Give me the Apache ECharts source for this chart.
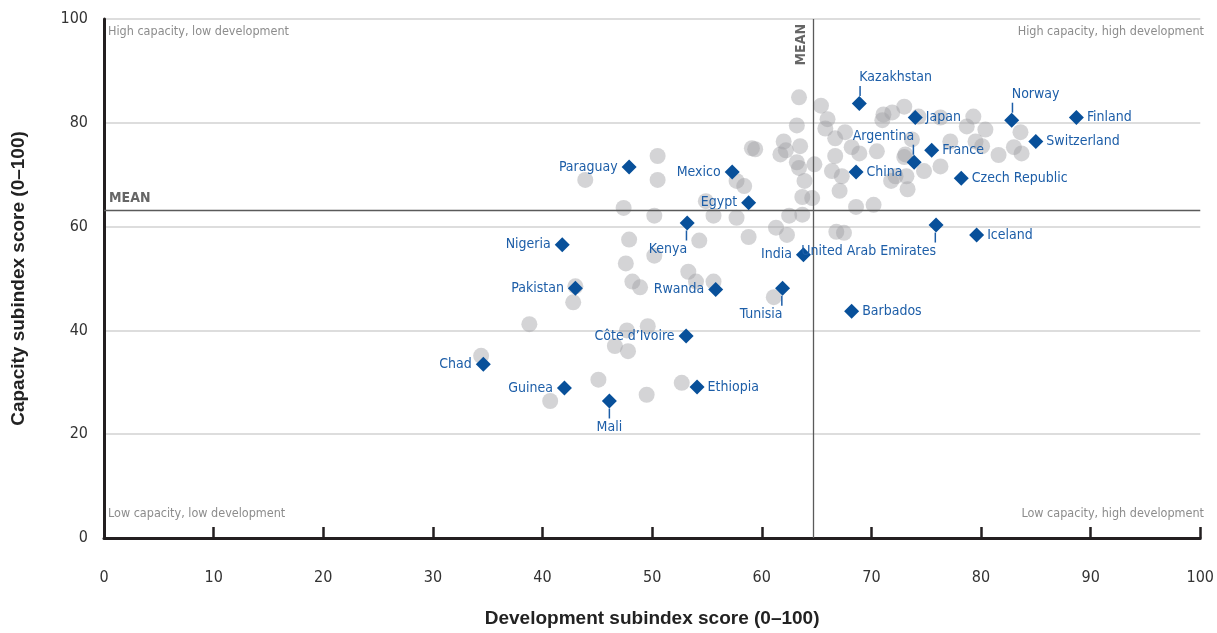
<!DOCTYPE html>
<html><head><meta charset="utf-8">
<script src="https://cdn.jsdelivr.net/npm/echarts/dist/echarts.min.js"></script>
<style>html,body{margin:0;padding:0;background:#fff}#c{width:1217px;height:633px}</style>
</head><body><div id="c"></div>
<script>
// Highlighted countries
const countries = ['Kazakhstan','Japan','Norway','Finland','Switzerland','France','Argentina','China','Czech Republic','Mexico','Paraguay','Egypt','Kenya','United Arab Emirates','Iceland','Nigeria','India','Pakistan','Rwanda','Tunisia','Barbados','Côte d\u2019Ivoire','Chad','Guinea','Ethiopia','Mali'];
const countryDev = [68.9,74.0,82.8,88.7,85.0,75.5,73.9,68.6,78.2,57.3,47.9,58.8,53.2,75.9,79.6,41.8,63.8,43.0,55.8,61.9,68.2,53.1,34.6,42.0,54.1,46.1];
const countryCap = [83.7,81.0,80.5,81.0,76.4,74.7,72.4,70.5,69.3,70.5,71.5,64.6,60.7,60.3,58.4,56.5,54.6,48.1,47.9,48.1,43.7,38.9,33.5,28.9,29.1,26.4];

// Other economies (grey dots)
const otherDev = [34.4,38.8,40.7,42.8,43.0,43.9,45.1,46.6,47.8,47.7,49.6,49.5,52.7,47.4,47.9,47.6,48.2,48.9,50.2,50.2,50.5,50.5,53.3,54.0,55.6,54.3,55.6,54.9,57.7,57.7,58.4,58.8,59.1,61.1,61.3,62.3,62.5,63.7,63.7,64.6,63.9,63.4,63.2,64.8,61.7,62.2,63.5,62.0,63.2,63.4,59.4,65.4,66.0,65.8,67.6,66.7,66.7,66.4,67.3,67.1,68.2,68.9,68.6,70.2,66.8,67.5,70.5,71.0,71.1,71.9,73.0,72.2,71.8,73.2,73.3,73.0,73.7,74.3,76.3,74.8,76.3,77.2,78.7,79.3,80.4,79.5,80.1,81.6,83.0,83.7,83.6,73.1];
const otherCap = [35.1,41.2,26.4,45.4,48.5,69.0,30.5,37.0,36.0,40.0,40.8,27.6,29.9,63.6,57.5,52.9,49.4,48.3,62.1,54.4,73.6,69.0,51.3,49.4,49.4,57.3,62.1,64.9,61.7,68.8,67.8,58.0,75.1,46.4,59.8,58.4,62.1,62.3,65.7,65.5,68.8,71.3,72.4,72.0,73.9,74.7,75.5,76.4,79.5,84.9,74.9,83.3,80.7,78.9,78.2,77.0,73.6,70.7,69.7,66.9,75.3,74.1,63.8,64.2,59.0,58.8,74.5,80.5,81.6,82.0,83.1,69.7,68.8,69.7,67.2,73.4,76.8,81.2,81.0,70.7,71.6,76.4,79.3,81.2,78.7,76.4,75.5,73.8,75.3,74.1,78.2,73.9];

const meanDev = 64.7;
const meanCap = 63.2;

const xTickInterval = 10;
const yTickInterval = 20;

const quadrantLabels = ['High capacity, low development','High capacity, high development','Low capacity, low development','Low capacity, high development'];

// label placement (style, kept apart from data)
const placeRight = ['Japan','Finland','Switzerland','France','China','Czech Republic','Iceland','Barbados','Ethiopia'];
const placeTopLeft = ['Kazakhstan','Norway'];
const placeTopRight = ['Argentina'];
const placeBottomRight = ['Kenya','United Arab Emirates','Tunisia'];
const placeBottomCenter = ['Mali'];

const NARROW = "'Liberation Sans Narrow','DejaVu Sans Condensed',sans-serif";
const LABEL_COLOR = '#1d5ea8';
const MARK_COLOR = '#08509a';

function labelFor(name) {
  const t = {fontSize: 14, lineHeight: 17, color: LABEL_COLOR, fontFamily: NARROW};
  const lead = {width: 1.5, height: 10, backgroundColor: LABEL_COLOR};
  if (placeRight.includes(name)) return {show: true, position: 'right', distance: 3, formatter: '{t|{b}}', rich: {t}};
  if (placeTopLeft.includes(name)) return {show: true, position: 'top', distance: 0, align: 'left', formatter: '{t|{b}}\n{l| }', rich: {t, l: Object.assign({align: 'left'}, lead)}};
  if (placeTopRight.includes(name)) return {show: true, position: 'top', distance: 0, align: 'right', formatter: '{t|{b}}\n{l| }', rich: {t, l: Object.assign({align: 'right'}, lead)}};
  if (placeBottomRight.includes(name)) return {show: true, position: 'bottom', distance: 0, align: 'right', formatter: '{l| }\n{t|{b}}', rich: {t, l: Object.assign({align: 'right'}, lead)}};
  if (placeBottomCenter.includes(name)) return {show: true, position: 'bottom', distance: 0, align: 'center', formatter: '{l| }\n{t|{b}}', rich: {t, l: Object.assign({align: 'center'}, lead)}};
  return {show: true, position: 'left', distance: 4, formatter: '{t|{b}}', rich: {t}};
}

const countryData = countries.map((n, i) => ({name: n, value: [countryDev[i], countryCap[i]], label: labelFor(n)}));
const otherData = otherDev.map((d, i) => [d, otherCap[i]]);

const chart = echarts.init(document.getElementById('c'), null, {renderer: 'canvas'});
const quadStyle = {fill: '#8c8c8c', font: '12.5px ' + NARROW};
chart.setOption({
  animation: false,
  backgroundColor: '#fff',
  grid: {left: 104, right: 12, top: 19, bottom: 90, containLabel: false},
  xAxis: {
    type: 'value', min: 0, max: 100, interval: xTickInterval,
    name: 'Development subindex score (0\u2013100)', nameLocation: 'middle', nameGap: 71,
    nameTextStyle: {fontSize: 19, fontWeight: 'bold', color: '#222', fontFamily: "'Liberation Sans',Arial,sans-serif"},
    axisLine: {show: true, lineStyle: {color: '#231f20', width: 3}},
    axisTick: {show: true, inside: true, length: 11, lineStyle: {color: '#231f20', width: 2.5}},
    axisLabel: {margin: 32, fontSize: 16, color: '#333', fontFamily: NARROW},
    splitLine: {show: false}
  },
  yAxis: {
    type: 'value', min: 0, max: 100, interval: yTickInterval,
    name: 'Capacity subindex score (0\u2013100)', nameLocation: 'middle', nameGap: 76,
    nameTextStyle: {fontSize: 19, fontWeight: 'bold', color: '#222', fontFamily: "'Liberation Sans',Arial,sans-serif"},
    axisLine: {show: true, lineStyle: {color: '#231f20', width: 3}},
    axisTick: {show: false},
    axisLabel: {margin: 16, fontSize: 16, color: '#333', fontFamily: NARROW},
    splitLine: {show: true, lineStyle: {color: '#d2d2d2', width: 1.5}}
  },
  graphic: [
    {type: 'text', left: 108, top: 25, style: Object.assign({text: quadrantLabels[0]}, quadStyle)},
    {type: 'text', right: 13, top: 25, style: Object.assign({text: quadrantLabels[1]}, quadStyle)},
    {type: 'text', left: 108, top: 507, style: Object.assign({text: quadrantLabels[2]}, quadStyle)},
    {type: 'text', right: 13, top: 507, style: Object.assign({text: quadrantLabels[3]}, quadStyle)}
  ],
  series: [
    {
      type: 'scatter', symbol: 'circle', symbolSize: 16, data: otherData, z: 2,
      itemStyle: {color: '#a0a0a3', opacity: 0.45},
      silent: true
    },
    {
      type: 'scatter', data: [], z: 3, silent: true,
      markLine: {
        silent: true, symbol: ['none', 'none'], animation: false,
        lineStyle: {color: '#5a5a5a', width: 1.3, type: 'solid'},
        label: {show: true, formatter: 'MEAN', color: '#666', fontWeight: 'bold', fontSize: 14, fontFamily: NARROW},
        data: [
          {xAxis: meanDev, label: {position: 'insideEndTop'}},
          {yAxis: meanCap, label: {position: 'insideStartTop'}}
        ]
      }
    },
    {
      type: 'scatter', symbol: 'diamond', symbolSize: 15, data: countryData, z: 5,
      itemStyle: {color: MARK_COLOR, opacity: 1}, silent: true
    }
  ]
});
</script>
</body></html>
